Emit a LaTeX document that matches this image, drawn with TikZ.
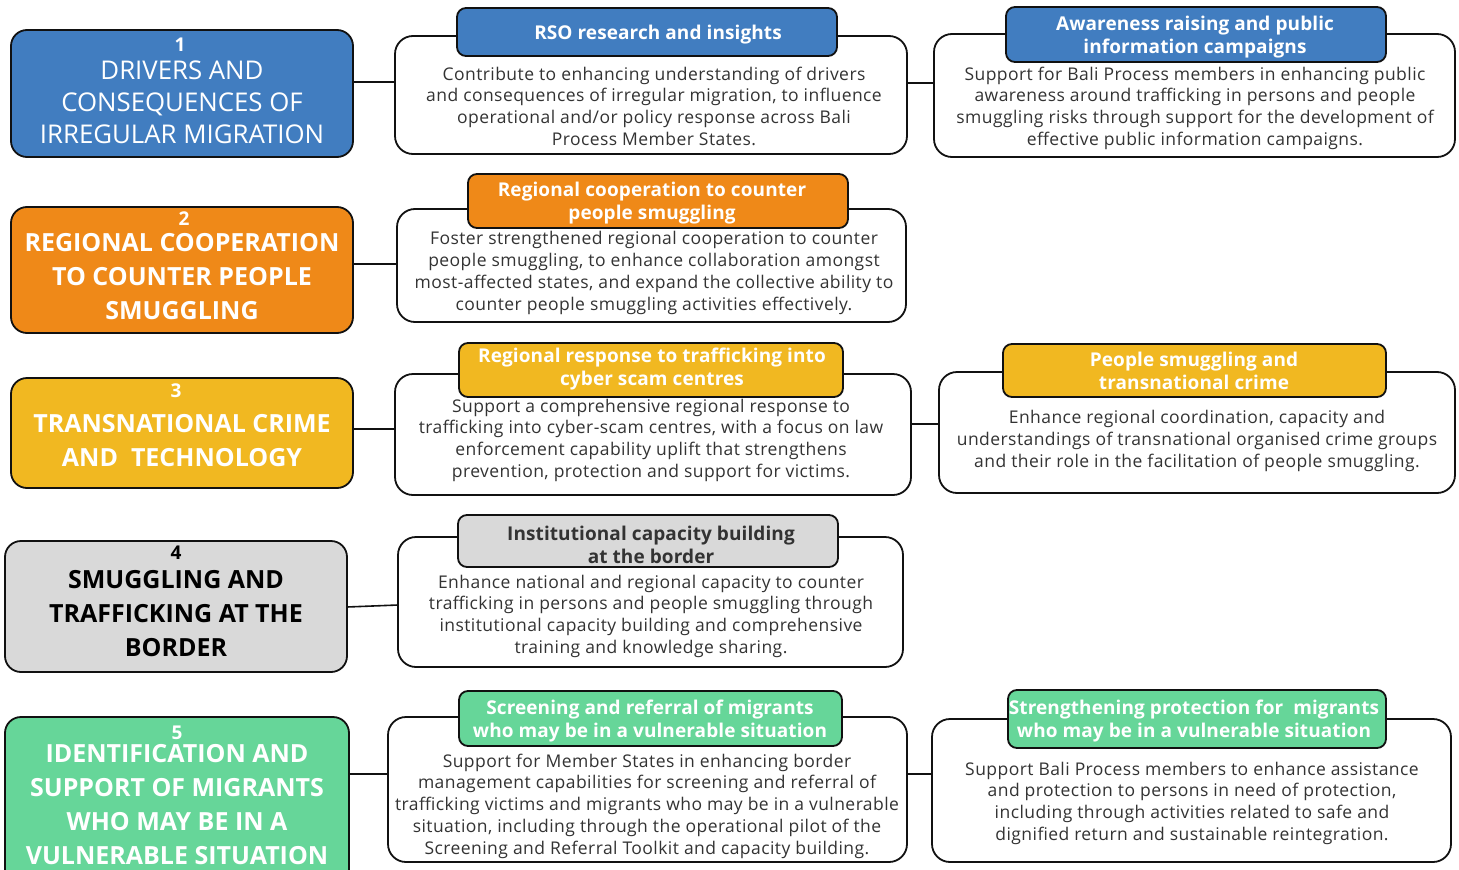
\documentclass[tikz,border=0pt]{standalone}
\usepackage{fontspec}
\setmainfont{Open Sans}
\newfontfamily\bodyfam{Open Sans}[LetterSpace=2.5]
\newfontfamily\headfam{Open Sans}[LetterSpace=0.5]
\usetikzlibrary{fit}
\definecolor{cblue}{HTML}{417DC0}
\definecolor{corange}{HTML}{EF8918}
\definecolor{cyellow}{HTML}{F1B821}
\definecolor{cgray}{HTML}{D9D9D9}
\definecolor{cgreen}{HTML}{66D699}
\definecolor{txtgray}{HTML}{333333}
\definecolor{edge}{HTML}{111111}
\newcommand\bodysize{\bodyfam\fontsize{17.5}{21.7}\selectfont}
\newcommand\headsize{\headfam\fontsize{19}{23}\selectfont\bfseries}
\newcommand\numsize{\fontsize{19}{20}\selectfont\bfseries}
\newcommand\titlesize{\fontsize{25.8}{32}\selectfont}
\newcommand\titlebsize{\fontsize{25}{34}\selectfont\bfseries}
\begin{document}
\begin{tikzpicture}[x=1pt,y=-1pt,
  every node/.style={inner sep=0pt, outer sep=0pt},
  lbox/.style={draw=edge, line width=1.8pt, rounded corners=16pt},
  bbox/.style={draw=edge, fill=white, line width=1.8pt, rounded corners=18pt},
  hbox/.style={draw=edge, line width=1.8pt, rounded corners=9pt},
  htext/.style={align=center, font=\headsize, text=white},
  btext/.style={align=center, font=\bodysize, text=txtgray},
  numtext/.style={font=\numsize, text=white},
  ttext/.style={align=center, font=\titlesize, text=white},
  tbtext/.style={align=center, font=\titlebsize, text=white},
  conn/.style={line width=1.6pt, draw=edge},
]
\useasboundingbox (0,0) rectangle (1459,870);

% ---------- left boxes ----------
\node[lbox, fill=cblue,   fit={(11,30) (353,157)}] (L1) {};
\node[lbox, fill=corange, fit={(11,207) (353,333)}] (L2) {};
\node[lbox, fill=cyellow, fit={(11,378) (353,488)}] (L3) {};
\node[lbox, fill=cgray,   fit={(5,541) (347,672)}] (L4) {};
\node[lbox, fill=cgreen,  fit={(5,717) (349,900)}] (L5) {};

\node[numtext] (n1) at (180,45) {1};
\node[ttext] (t1) at (182,102) {DRIVERS AND\\CONSEQUENCES OF\\IRREGULAR MIGRATION};
\node[numtext] (n2) at (184,219) {2};
\node[tbtext] (t2) at (182,277) {REGIONAL COOPERATION\\TO COUNTER PEOPLE\\SMUGGLING};
\node[numtext] (n3) at (176,391) {3};
\node[tbtext] (t3) at (182,441) {TRANSNATIONAL CRIME\\AND~~TECHNOLOGY};
\node[numtext, text=black] (n4) at (176,553) {4};
\node[tbtext, text=black] (t4) at (176,614) {SMUGGLING AND\\TRAFFICKING AT THE\\BORDER};
\node[numtext] (n5) at (177,733) {5};
\node[tbtext] (t5) at (177,805) {IDENTIFICATION AND\\SUPPORT OF MIGRANTS\\WHO MAY BE IN A\\VULNERABLE SITUATION};

% ---------- body boxes ----------
\node[bbox, fit={(395,36) (907,154)}] (M1) {};
\node[bbox, fit={(934,34) (1455,157)}] (R1) {};
\node[bbox, fit={(397,209) (906,322)}] (M2) {};
\node[bbox, fit={(395,374) (911,495)}] (M3) {};
\node[bbox, fit={(939,372) (1455,493)}] (R3) {};
\node[bbox, fit={(398,537) (903,667)}] (M4) {};
\node[bbox, fit={(388,717) (907,862)}] (M5) {};
\node[bbox, fit={(932,719) (1451,862)}] (R5) {};

% ---------- connectors ----------
\draw[conn] (L1.east |- 0,82) -- (M1.west |- 0,82);
\draw[conn] (M1.east |- 0,83) -- (R1.west |- 0,83);
\draw[conn] (L2.east |- 0,264) -- (M2.west |- 0,264);
\draw[conn] (L3.east |- 0,429) -- (M3.west |- 0,429);
\draw[conn] (M3.east |- 0,424) -- (R3.west |- 0,424);
\draw[conn] (L4.east |- 0,607) -- (M4.west |- 0,605);
\draw[conn] (L5.east |- 0,774) -- (M5.west |- 0,774);
\draw[conn] (M5.east |- 0,774) -- (R5.west |- 0,774);

% ---------- headers ----------
\node[hbox, fill=cblue, fit={(457,8) (837,56)}] (H1) {};
\node[htext] (h1) at (658,35) {RSO research and insights};
\node[hbox, fill=cblue, fit={(1006,7) (1386,62)}] (G1) {};
\node[htext] (g1) at (1195,37) {Awareness raising and public\\information campaigns};
\node[hbox, fill=corange, fit={(468,174) (848,228)}] (H2) {};
\node[htext] (h2) at (652,203) {Regional cooperation to counter\\people smuggling};
\node[hbox, fill=cyellow, fit={(459,343) (843,397)}] (H3) {};
\node[htext] (h3) at (652,369) {Regional response to trafficking into\\cyber scam centres};
\node[hbox, fill=cyellow, fit={(1003,344) (1386,397)}] (G3) {};
\node[htext] (g3) at (1194,371) {People smuggling and\\transnational crime};
\node[hbox, fill=cgray, fit={(458,515) (838,567)}] (H4) {};
\node[htext, text=txtgray] (h4) at (651,545) {Institutional capacity building\\at the border};
\node[hbox, fill=cgreen, fit={(459,691) (842,746)}] (H5) {};
\node[htext] (h5) at (650,721) {Screening and referral of migrants\\who may be in a vulnerable situation};
\node[hbox, fill=cgreen, fit={(1008,690) (1386,748)}] (G5) {};
\node[htext] (g5) at (1194,721) {Strengthening protection for~~migrants\\who may be in a vulnerable situation};

% ---------- body texts ----------
\node[btext] (m1) at (654,106) {Contribute to enhancing understanding of drivers\\and consequences of irregular migration, to influence\\operational and/or policy response across Bali\\Process Member States.};
\node[btext] (r1) at (1195,108) {Support for Bali Process members in enhancing public\\awareness around trafficking in persons and people\\smuggling risks through support for the development of\\effective public information campaigns.};
\node[btext] (m2) at (654,273) {Foster strengthened regional cooperation to counter\\people smuggling, to enhance collaboration amongst\\most-affected states, and expand the collective ability to\\counter people smuggling activities effectively.};
\node[btext] (m3) at (651,440) {Support a comprehensive regional response to\\trafficking into cyber-scam centres, with a focus on law\\enforcement capability uplift that strengthens\\prevention, protection and support for victims.};
\node[btext] (r3) at (1197,441) {Enhance regional coordination, capacity and\\understandings of transnational organised crime groups\\and their role in the facilitation of people smuggling.};
\node[btext] (m4) at (651,616) {Enhance national and regional capacity to counter\\trafficking in persons and people smuggling through\\institutional capacity building and comprehensive\\training and knowledge sharing.};
\node[btext] (m5) at (647,806) {Support for Member States in enhancing border\\management capabilities for screening and referral of\\trafficking victims and migrants who may be in a vulnerable\\situation, including through the operational pilot of the\\Screening and Referral Toolkit and capacity building.};
\node[btext] (r5) at (1192,803) {Support Bali Process members to enhance assistance\\and protection to persons in need of protection,\\including through activities related to safe and\\dignified return and sustainable reintegration.};
\end{tikzpicture}
\end{document}
